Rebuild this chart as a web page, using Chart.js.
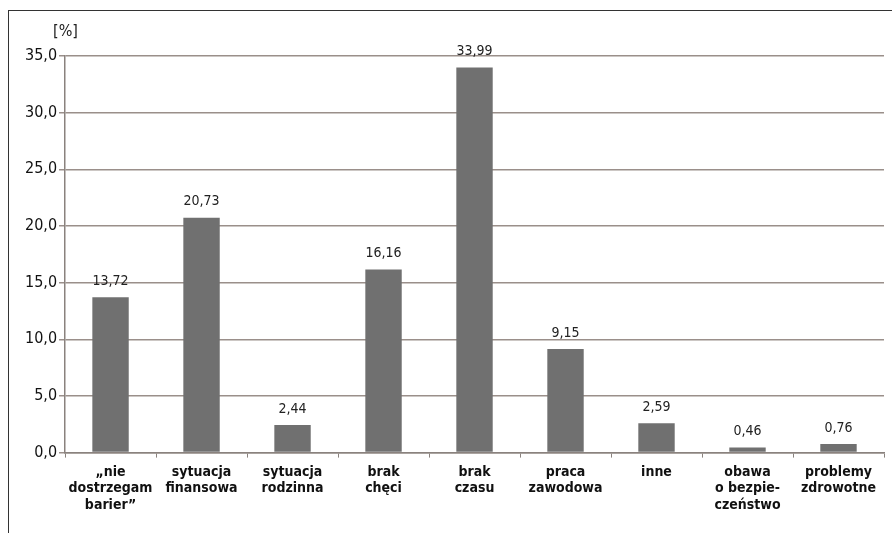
<!DOCTYPE html>
<html><head><meta charset="utf-8">
<script src="https://cdn.jsdelivr.net/npm/chart.js@4"></script>
<style>
html,body{margin:0;padding:0;background:#fff;width:892px;height:533px;overflow:hidden}
#frame{position:absolute;left:8px;top:10px;width:900px;height:540px;border-top:1.5px solid #333;border-left:1.5px solid #333}
#wrap{position:absolute;left:0;top:0;width:892px;height:533px}
</style></head><body>
<div id="frame"></div>
<div id="wrap"><canvas id="c"></canvas></div>
<script>
const categories = [
  ["\u201enie","dostrzegam","barier\u201d"],
  ["sytuacja","finansowa"],
  ["sytuacja","rodzinna"],
  ["brak","chęci"],
  ["brak","czasu"],
  ["praca","zawodowa"],
  ["inne"],
  ["obawa","o bezpie-","czeństwo"],
  ["problemy","zdrowotne"]
];
const values = [13.72, 20.73, 2.44, 16.16, 33.99, 9.15, 2.59, 0.46, 0.76];
const yTicks = [0, 5, 10, 15, 20, 25, 30, 35];
const unitLabel = "[%]";

const FONT = "'Liberation Sans Narrow','DejaVu Sans Condensed','Liberation Sans',sans-serif";
const fmt = (v, d) => v.toFixed(d).replace('.', ',');

const labelsPlugin = {
  id: 'valLabels',
  afterDatasetsDraw(chart) {
    const ctx = chart.ctx;
    const meta = chart.getDatasetMeta(0);
    ctx.save();
    ctx.font = "14px " + FONT;
    ctx.fillStyle = "#222";
    ctx.textAlign = "center";
    ctx.textBaseline = "bottom";
    meta.data.forEach((bar, i) => {
      ctx.fillText(fmt(values[i], 2), bar.x, bar.y - 9);
    });
    ctx.font = "16px " + FONT;
    ctx.textAlign = "left";
    ctx.fillText(unitLabel, chart.chartArea.left - 12, chart.chartArea.top - 16);
    ctx.restore();
  }
};

new Chart(document.getElementById('c'), {
  type: 'bar',
  data: {
    labels: categories,
    datasets: [{
      data: values,
      backgroundColor: '#707070',
      borderWidth: 0,
      barPercentage: 0.4,
      categoryPercentage: 1.0
    }]
  },
  options: {
    responsive: true,
    maintainAspectRatio: false,
    animation: false,
    devicePixelRatio: 1,
    layout: { padding: { top: 56, right: 8, left: 23, bottom: 13 } },
    plugins: { legend: { display: false }, tooltip: { enabled: false } },
    scales: {
      x: {
        grid: { display: true, drawOnChartArea: false, drawTicks: true, tickLength: 5, color: '#8a827e', offset: true },
        border: { display: true, color: '#8a827e', width: 1.5 },
        ticks: { color: '#111', font: { family: FONT, size: 14, weight: 'bold', lineHeight: 1.2 }, maxRotation: 0, autoSkip: false, padding: 6 }
      },
      y: {
        min: 0, max: 35,
        afterBuildTicks(axis) { axis.ticks = yTicks.map(v => ({ value: v })); },
        grid: { color: '#9a8f8a', lineWidth: 1.5, tickLength: 6 },
        border: { display: true, color: '#8a827e', width: 1.5 },
        ticks: { color: '#111', font: { family: FONT, size: 16 }, padding: 2, callback: v => fmt(v, 1) }
      }
    }
  },
  plugins: [labelsPlugin]
});
</script>
</body></html>
